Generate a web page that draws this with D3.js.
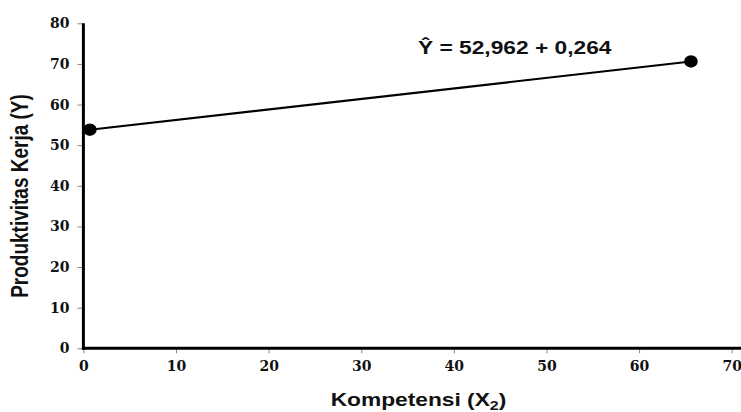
<!DOCTYPE html>
<html><head><meta charset="utf-8">
<script src="https://cdn.jsdelivr.net/npm/d3@7"></script>
<style>body{margin:0;background:#fff}</style></head>
<body><svg id="c" width="741" height="412"></svg>
<script>
const xTicks = [0,10,20,30,40,50,60,70];
const yTicks = [0,10,20,30,40,50,60,70,80];
const pointsX = [0.7, 65.6];
const pointsY = [53.8, 70.6];
const equation = "Ŷ = 52,962 + 0,264";
const xTitle = "Kompetensi (X";
const yTitle = "Produktivitas Kerja (Y)";

const svg = d3.select("#c");
const x = d3.scaleLinear().domain([0,70]).range([83.4,731.7]);
const y = d3.scaleLinear().domain([0,80]).range([348.3,23.3]);
const SX = 1.23;
const sans = "'Liberation Sans', Arial, sans-serif";

const tickFont = "'DejaVu Serif', serif";
// y axis
const ya = svg.append("g").attr("transform",`translate(${x(0)},0)`)
  .call(d3.axisLeft(y).tickValues(yTicks).tickSize(6).tickPadding(8).tickFormat(d3.format("d")));
ya.select(".domain").remove();
ya.selectAll(".tick line").attr("stroke","#888").attr("stroke-width",1);
ya.selectAll(".tick text").attr("font-family",tickFont).attr("font-weight","bold").attr("font-size",14).attr("fill","#111");
// x axis
const xa = svg.append("g").attr("transform",`translate(0,${y(0)})`)
  .call(d3.axisBottom(x).tickValues(xTicks).tickSize(5).tickPadding(8).tickFormat(d3.format("d")));
xa.select(".domain").remove();
xa.selectAll(".tick line").attr("stroke","#888").attr("stroke-width",1);
xa.selectAll(".tick text").attr("font-family",tickFont).attr("font-weight","bold").attr("font-size",14).attr("fill","#111");

// axis lines
svg.append("line").attr("x1",x(0)).attr("x2",x(0)).attr("y1",y(80)).attr("y2",y(0)+1.5).attr("stroke","#000").attr("stroke-width",3);
svg.append("line").attr("x1",x(0)-1.5).attr("x2",741).attr("y1",y(0)).attr("y2",y(0)).attr("stroke","#000").attr("stroke-width",3);

// regression line
const pts = pointsX.map((v,i)=>[v,pointsY[i]]);
svg.append("path").datum(pts)
  .attr("d", d3.line().x(d=>x(d[0])).y(d=>y(d[1])))
  .attr("stroke","#000").attr("stroke-width",2.2).attr("fill","none");
svg.selectAll("circle.p").data(pts).enter().append("ellipse")
  .attr("cx",d=>x(d[0])).attr("cy",d=>y(d[1])).attr("rx",6.8).attr("ry",6.2).attr("fill","#000");

// equation
svg.append("text").attr("transform",`translate(418,54) scale(${SX},1)`).attr("font-family",sans)
  .attr("font-weight","bold").attr("font-size",18.5).attr("fill","#111").text(equation);

// x title
const xt = svg.append("text").attr("transform",`translate(418.5,406) scale(${SX},1)`).attr("text-anchor","middle")
  .attr("font-family",sans).attr("font-weight","bold").attr("font-size",18.5).attr("fill","#111");
xt.append("tspan").text(xTitle);
xt.append("tspan").attr("font-size",13).attr("dy",3.5).text("2");
xt.append("tspan").attr("dy",-3.5).text(")");

// y title
svg.append("text").attr("transform",`translate(28,196) scale(${SX},1) rotate(-90)`).attr("text-anchor","middle")
  .attr("font-family",sans).attr("font-weight","bold").attr("font-size",19).attr("fill","#111")
  .text(yTitle);
</script></body></html>
